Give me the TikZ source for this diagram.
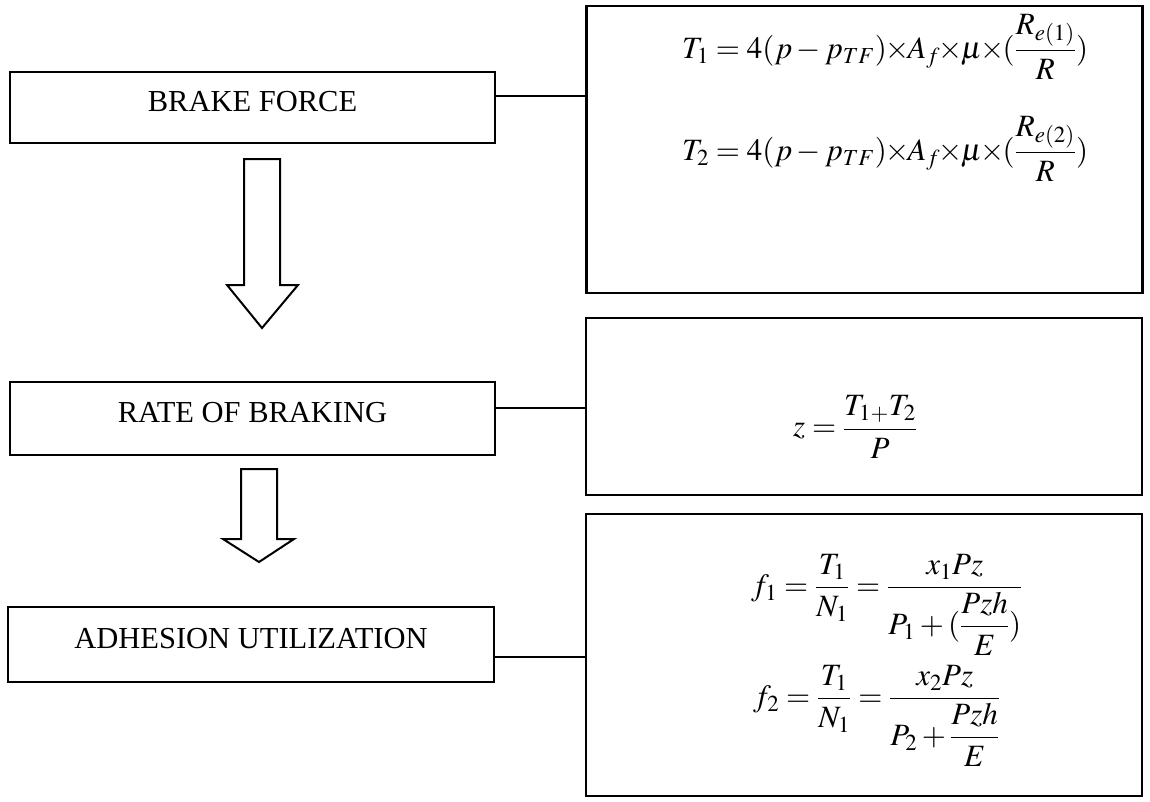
\documentclass[tikz,border=0pt]{standalone}
\usepackage{amsmath}
\usepackage{mathptmx}
\usepackage{fontspec}
\setmainfont{Liberation Serif}
\newcommand{\tx}{\mkern-3.5mu\times\mkern-3.5mu}
\begin{document}
\begin{tikzpicture}[x=1pt,y=-1pt,
  lbox/.style={draw,line width=2.4pt,minimum width=485pt,minimum height=71pt,inner sep=0pt,text depth=12pt,font=\fontsize{30.5}{36}\selectfont},
  rbox/.style={draw,line width=2.4pt,inner sep=0pt,minimum width=556pt},
  conn/.style={line width=2pt},
  blockarrow/.style={draw,line width=2pt,line join=miter},
  eq/.style={inner sep=0pt,font=\fontsize{31}{37}\selectfont}]
\useasboundingbox (0,0) rectangle (1150,801);
% left boxes
\node[lbox] (bf) at (252.5,107.5) {BRAKE FORCE};
\node[lbox,minimum height=73pt] (rb) at (252.5,418.5) {RATE OF BRAKING};
\node[lbox,minimum height=75pt,minimum width=486pt] (au) at (251,644.5) {ADHESION UTILIZATION};
% right boxes
\node[rbox,minimum height=287pt] (eqA) at (864.5,149.5) {};
\node[rbox,minimum height=177pt] (eqB) at (864,406.5) {};
\node[rbox,minimum height=282pt] (eqC) at (864,655) {};
% connectors
\coordinate (c1) at ([yshift=11.5pt]bf.east);
\coordinate (c2) at ([yshift=10.5pt]rb.east);
\coordinate (c3) at ([yshift=-12.5pt]au.east);
\draw[conn] (c1) -- (c1 -| eqA.west);
\draw[conn] (c2) -- (c2 -| eqB.west);
\draw[conn] (c3) -- (c3 -| eqC.west);
% block arrows
\draw[blockarrow] (244,159) -- (280,159) -- (280,285) -- (298,285) -- (262,328) -- (227,285) -- (244,285) -- cycle;
\draw[blockarrow] (241,469) -- (277,469) -- (277,539) -- (294,539) -- (259,562) -- (223,539) -- (241,539) -- cycle;
% equations
\node[eq,anchor=west] (e1) at (682,47) {$T_1=4(p-p_{TF})\tx A_f\tx\mu\tx(\dfrac{R_{e(1)}}{R})$};
\node[eq,anchor=west] (e2) at (682,149) {$T_2=4(p-p_{TF})\tx A_f\tx\mu\tx(\dfrac{R_{e(2)}}{R})$};
\node[eq] (e3) at (855,427) {$z=\dfrac{T_{1+}T_2}{P}$};
\node[eq,anchor=west] (e4) at (751,605) {$f_1=\dfrac{T_1}{N_1}=\dfrac{x_1Pz}{P_1+(\dfrac{Pzh}{E})}$};
\node[eq,anchor=west] (e5) at (753,716) {$f_2=\dfrac{T_1}{N_1}=\dfrac{x_2Pz}{P_2+\dfrac{Pzh}{E}}$};
\end{tikzpicture}
\end{document}
